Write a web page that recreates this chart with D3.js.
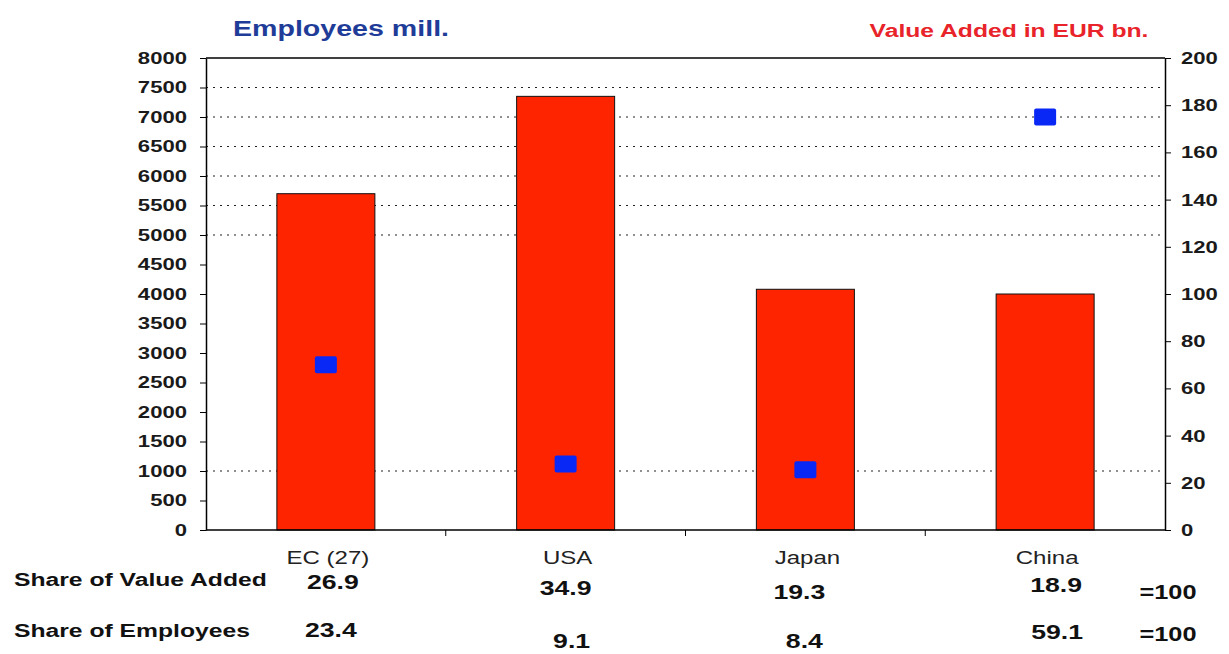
<!DOCTYPE html>
<html>
<head>
<meta charset="utf-8">
<script src="https://cdn.jsdelivr.net/npm/d3@7"></script>
<style>
    body { margin: 0; background: #fff; }
    svg text { font-family: "Liberation Sans", Arial, sans-serif; }
    .axis path, .axis line { stroke: #000; }
    .axis text { font-size: 17px; font-weight: bold; fill: #1a1a1a; }
</style>
</head>
<body>
<div id="chart"></div>
<script>
// chart data
let regions = ["EC (27)", "USA", "Japan", "China"];
let valueAdded = [5700, 7350, 4080, 4000];      // bars, left axis
let employees = [70, 28, 25.5, 175];            // squares, right axis
let shareValueAdded = ["26.9", "34.9", "19.3", "18.9"];
let shareEmployees = ["23.4", "9.1", "8.4", "59.1"];
let leftTicks = [0, 500, 1000, 1500, 2000, 2500, 3000, 3500, 4000, 4500, 5000, 5500, 6000, 6500, 7000, 7500, 8000];
let rightTicks = [0, 20, 40, 60, 80, 100, 120, 140, 160, 180, 200];
let gridValues = [1000, 5000, 5500, 6000, 6500, 7000, 7500];

// the original text is drawn horizontally stretched
let SX = 1.3;

let margin = {top: 58, right: 64, bottom: 124, left: 206};
let width = 1229 - margin.left - margin.right,
    height = 654 - margin.top - margin.bottom;

let svg = d3.select("#chart").append("svg")
    .attr("width", 1229)
    .attr("height", 654);

let g = svg.append("g")
    .attr("transform", "translate(" + margin.left + "," + margin.top + ")");

// helper: text placed at (x, y) and stretched
function addText(parent, x, y, str) {
    return parent.append("text")
        .attr("transform", "translate(" + x + "," + y + ") scale(" + SX + ",1)")
        .text(str);
}

// scales
let xBand = d3.scaleBand().domain(regions).range([0, width]);
let yLeft = d3.scaleLinear().domain([0, 8000]).range([height, 0]);
let yRight = d3.scaleLinear().domain([0, 200]).range([height, 0]);
let cx = d => xBand(d) + xBand.bandwidth() / 2;

// dotted gridlines
g.selectAll(".grid")
    .data(gridValues)
    .enter().append("line")
    .attr("class", "grid")
    .attr("x1", 0)
    .attr("x2", width)
    .attr("y1", d => yLeft(d))
    .attr("y2", d => yLeft(d))
    .attr("stroke", "#222")
    .attr("stroke-width", 1.2)
    .attr("stroke-dasharray", "2,5");

// top border
g.append("line")
    .attr("x1", 0).attr("x2", width)
    .attr("y1", 0).attr("y2", 0)
    .attr("stroke", "#000").attr("stroke-width", 1.5);

// bars
g.selectAll(".bar")
    .data(valueAdded)
    .enter().append("rect")
    .attr("class", "bar")
    .attr("x", (d, i) => cx(regions[i]) - 49)
    .attr("width", 98)
    .attr("y", d => yLeft(d))
    .attr("height", d => height - yLeft(d))
    .attr("fill", "#ff2400")
    .attr("stroke", "#111")
    .attr("stroke-width", 1);

// employees squares
g.selectAll(".emp")
    .data(employees)
    .enter().append("rect")
    .attr("class", "emp")
    .attr("x", (d, i) => cx(regions[i]) - 11)
    .attr("y", d => yRight(d) - 8.5)
    .attr("width", 22)
    .attr("height", 17)
    .attr("rx", 2)
    .attr("fill", "#0a28f5");

// left axis
g.append("g")
    .attr("class", "axis")
    .call(d3.axisLeft(yLeft).tickValues(leftTicks).tickFormat(d3.format("d")).tickSize(6).tickSizeOuter(0))
    .call(a => a.select(".domain").attr("stroke-width", 1.5))
    .call(a => a.selectAll(".tick text")
        .attr("x", 0)
        .attr("transform", "translate(-19,0) scale(" + SX + ",1)"));

// right axis
g.append("g")
    .attr("class", "axis")
    .attr("transform", "translate(" + width + ",0)")
    .call(d3.axisRight(yRight).tickValues(rightTicks).tickSize(6).tickSizeOuter(0))
    .call(a => a.select(".domain").attr("stroke-width", 1.5))
    .call(a => a.selectAll(".tick text")
        .attr("x", 0)
        .attr("transform", "translate(16,0) scale(" + SX + ",1)"));

// bottom axis with ticks at band boundaries
let bottom = g.append("g")
    .attr("class", "axis")
    .attr("transform", "translate(0," + height + ")");
bottom.append("line")
    .attr("x1", 0).attr("x2", width)
    .attr("stroke", "#000").attr("stroke-width", 1.5);
bottom.selectAll(".btick")
    .data(regions.slice(1))
    .enter().append("line")
    .attr("x1", d => xBand(d)).attr("x2", d => xBand(d))
    .attr("y1", 0).attr("y2", 6)
    .attr("stroke", "#000");

// category labels
regions.forEach(d => {
    addText(g, cx(d) + 2, height + 34, d)
        .attr("text-anchor", "middle")
        .attr("font-size", "18.5px")
        .attr("fill", "#222");
});

// titles
addText(svg, 341, 36, "Employees mill.")
    .attr("text-anchor", "middle")
    .attr("font-size", "22px")
    .attr("font-weight", "bold")
    .attr("fill", "#1f3c98");

addText(svg, 1009, 37, "Value Added in EUR bn.")
    .attr("text-anchor", "middle")
    .attr("font-size", "19px")
    .attr("font-weight", "bold")
    .attr("fill", "#e8242a");

// share table below the chart
let rowY = [586, 637];
let nudgeY = [[3, 9, 13, 6], [0, 11, 11, 2]];   // uneven vertical offsets seen in the original
let nudgeX = [[7, 0, -6, 11], [5, 6, -1, 12]];
let rows = [
    {label: "Share of Value Added", values: shareValueAdded},
    {label: "Share of Employees", values: shareEmployees}
];

rows.forEach((row, r) => {
    addText(svg, 14, rowY[r], row.label)
        .attr("font-size", "19px")
        .attr("font-weight", "bold")
        .attr("fill", "#111");

    row.values.forEach((v, i) => {
        addText(svg, margin.left + cx(regions[i]) + nudgeX[r][i], rowY[r] + nudgeY[r][i], v)
            .attr("text-anchor", "middle")
            .attr("font-size", "20.5px")
            .attr("font-weight", "bold")
            .attr("fill", "#111");
    });

    addText(svg, 1168, rowY[r] + 13 - r * 9, "=100")
        .attr("text-anchor", "middle")
        .attr("font-size", "19.5px")
        .attr("font-weight", "bold")
        .attr("fill", "#111");
});
</script>
</body>
</html>
